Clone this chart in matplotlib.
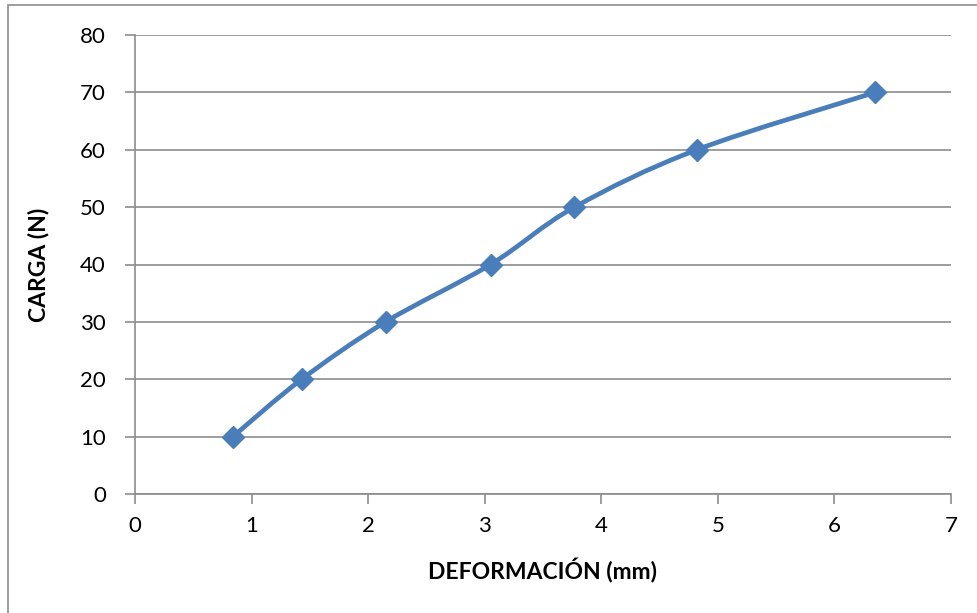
import matplotlib.pyplot as plt
from matplotlib.path import Path
from matplotlib.patches import PathPatch, Rectangle
import numpy as np

# datos
deformacion = [0.84, 1.43, 2.15, 3.05, 3.77, 4.82, 6.35]
carga = [10, 20, 30, 40, 50, 60, 70]

plt.rcParams['font.family'] = ['Lato', 'DejaVu Sans']

fig = plt.figure(figsize=(9.78, 6.13), dpi=100)
ax = fig.add_axes([135 / 978, 1 - 494 / 613, (951 - 135) / 978, (494 - 35) / 613])

azul = '#4A7EBB'
gris = '#8C8C8C'

# linea suavizada tipo Excel (bezier entre puntos)
x = np.array(deformacion)
y = np.array(carga, dtype=float)
verts = [(x[0], y[0])]
codes = [Path.MOVETO]
n = len(x)
for i in range(n - 1):
    p0 = i - 1 if i > 0 else i
    p3 = i + 2 if i + 2 < n else i + 1
    c1 = (x[i] + (x[i + 1] - x[p0]) / 6, y[i] + (y[i + 1] - y[p0]) / 6)
    c2 = (x[i + 1] - (x[p3] - x[i]) / 6, y[i + 1] - (y[p3] - y[i]) / 6)
    verts += [c1, c2, (x[i + 1], y[i + 1])]
    codes += [Path.CURVE4] * 3
ax.add_patch(PathPatch(Path(verts, codes), fill=False, edgecolor=azul, lw=3.4, zorder=3,
                       capstyle='round', joinstyle='round'))
ax.plot(deformacion, carga, linestyle='none', marker='D', markersize=11, color=azul, zorder=4)

ax.set_xlim(0, 7)
ax.set_ylim(0, 80)
ax.set_xticks(range(0, 8))
ax.set_yticks(range(0, 81, 10))
ax.grid(axis='y', color=gris, lw=1.2)
ax.set_axisbelow(True)
for s in ['top', 'right']:
    ax.spines[s].set_visible(False)
for s in ['left', 'bottom']:
    ax.spines[s].set_color(gris)
    ax.spines[s].set_linewidth(1.2)
ax.tick_params(colors=gris, width=1.2, length=7, labelsize=16, labelcolor='black', pad=9)
ax.tick_params(axis='y', pad=14)

ax.set_xlabel('DEFORMACIÓN (mm)', fontsize=16.5, fontweight='bold', labelpad=16)
ax.set_ylabel('CARGA (N)', fontsize=16.5, fontweight='bold', labelpad=22)

# marco exterior
fig.patches.append(Rectangle((8 / 978, -0.01), 1.1, 1 - 5 / 613 + 0.01, transform=fig.transFigure,
                             fill=False, edgecolor=gris, lw=1.2))

fig.savefig('out.png', dpi=100)
